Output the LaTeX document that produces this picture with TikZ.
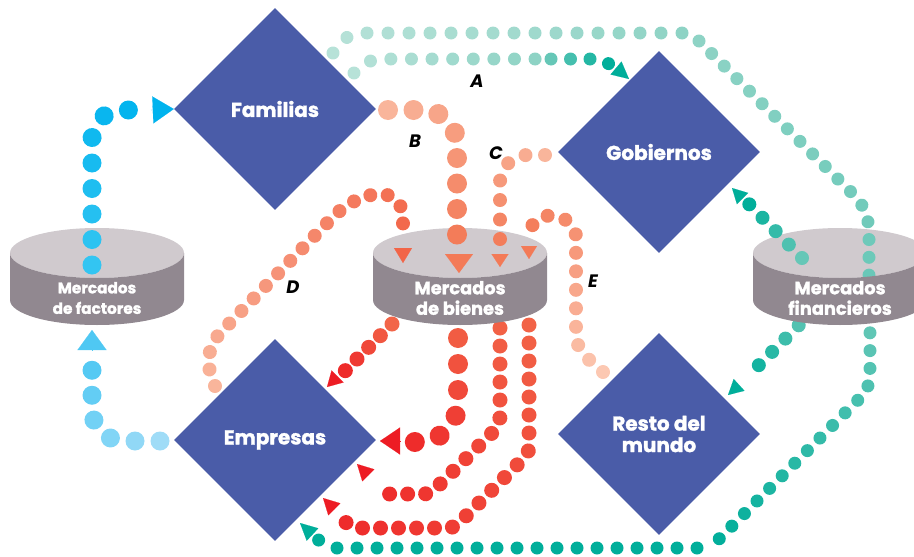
\documentclass[tikz,border=0pt]{standalone}
\usepackage{fontspec}
\setmainfont{Poppins}[BoldFeatures={FakeBold=1.5}]
\usetikzlibrary{arrows.meta,shapes.geometric,decorations.markings}

\definecolor{sectorblue}{HTML}{4A5CA8}
\definecolor{cylgray}{HTML}{D0CACE}
\definecolor{cyldark}{HTML}{918890}
\definecolor{cyanA}{HTML}{33C5F2} \definecolor{cyanB}{HTML}{00B3EE}
\definecolor{skyA}{HTML}{9FDCF7} \definecolor{skyB}{HTML}{4FC8F3}
\definecolor{mintA}{HTML}{B7E2D8} \definecolor{mintB}{HTML}{8ED3C5}
\definecolor{mintC}{HTML}{66C7B7} \definecolor{tealD}{HTML}{00AE9A}
\definecolor{peach}{HTML}{FCC8B2} \definecolor{salmon}{HTML}{F9B59B}
\definecolor{coral}{HTML}{F37A57} \definecolor{redA}{HTML}{F26548}
\definecolor{redB}{HTML}{EE2A2A} \definecolor{redtip}{HTML}{ED1C24}

\tikzset{
  sector/.style={diamond, aspect=1, fill=sectorblue, minimum width=202pt, minimum height=202pt,
    inner sep=0pt, text=white, align=center, font=\fontsize{20}{21.5}\selectfont\bfseries},
  cyltop/.style={fill=cylgray},
  cylside/.style={fill=cyldark},
  cyltext/.style={text=white, align=center, font=\fontsize{#1}{20.5}\selectfont\bfseries},
  lbl/.style={text=black, font=\fontsize{18}{18}\selectfont\bfseries\itshape},
  beads/.style n args={4}{postaction={decorate}, decoration={markings,
      mark=between positions 0 and 1 step #2 with {%
        \pgfmathtruncatemacro\beadmix{\pgfkeysvalueof{/pgf/decoration/mark info/distance from start}/\pgfdecoratedpathlength*100}%
        \fill[#4!\beadmix!#3] (0,0) circle (#1);}}},
  arrowhd/.style 2 args={-{Triangle[length=#1,width=#2]}, line width=0.1pt},
}

\begin{document}
\begin{tikzpicture}[x=1pt,y=-1pt]
    \useasboundingbox (0,0) rectangle (914,557); \clip (0,0) rectangle (914,557);

    % tops of the markets
    \foreach \cx in {97,460,840} \fill[cyltop] (\cx,253) ellipse (87 and 25);

    % flows
    \path[beads={9.5pt}{25.5pt}{cyanA}{cyanB}, rounded corners=30] (92,265) -- (92,110) -- (136,110);
    \path[beads={9.5pt}{25pt}{skyA}{skyB}, rounded corners=32] (160,441) -- (92,441) -- (92,362);
    \path[beads={6.5pt}{21pt}{mintA}{mintB}] (333,53) .. controls (341,41) and (349,33) .. (361,33) -- (683,33);
    \path[beads={6.5pt}{17.8pt}{mintB}{mintC}, rounded corners=10] (699,41) -- (862,203) -- (869,222) -- (869,300);
    \path[beads={6.5pt}{17.8pt}{mintC}{tealD}, rounded corners=12] (870,315) -- (870,388) -- (716,542);
    \path[beads={6.5pt}{20pt}{tealD}{tealD}] (697,548) -- (337,548) -- (318.5,540);
    \path[beads={6.5pt}{20.6pt}{mintA}{mintB}] (354,73) .. controls (363,63) and (371,59) .. (384,59) -- (536,59);
    \path[beads={6.5pt}{19.5pt}{mintC}{tealD}] (551,59) -- (592,59) .. controls (599,59) and (604,60) .. (609,64);
    \path[beads={7pt}{18.8pt}{mintC}{tealD}] (802,258) -- (749,204);
    \path[beads={7pt}{18.8pt}{mintC}{tealD}] (812,312) -- (746,378);
    \path[beads={10pt}{25.5pt}{salmon}{coral}, rounded corners=35] (388,110) -- (457,110) -- (457,240);
    \path[beads={10pt}{26pt}{redA}{redB}, rounded corners=40] (458,312) -- (458,442) -- (410,442);
    \path[beads={7pt}{19.5pt}{salmon}{coral}, rounded corners=28] (545,155) -- (500,155) -- (500,244);
    \path[beads={7pt}{18.5pt}{peach}{coral}] (603,372) .. controls (590,361) and (576,350) .. (576,335) -- (576,238) .. controls (576,212) and (532,206) .. (530,234);
    \path[beads={7pt}{17.5pt}{salmon}{redA}] (215,386) .. controls (206,366) and (206,350) .. (220,333) -- (333,217) .. controls (360,190) and (403,182) .. (403,220) -- (403,237);
    \path[beads={7.5pt}{16.5pt}{redA}{redB}] (392,324) -- (345,371);
    \path[beads={7.5pt}{18pt}{redA}{redB}] (500,310) -- (500,415) .. controls (500,424) and (497,428) .. (492,433) -- (434,490) .. controls (429,494) and (426,494) .. (420,494) -- (388,494) .. controls (383,494) and (379,489) .. (376,485);
    \path[beads={7.5pt}{18pt}{redA}{redB}] (529,307) -- (529,445) .. controls (529,452) and (527,455) .. (522,460) -- (462,520) .. controls (455,527) and (452,528) .. (445,528) -- (357,528) .. controls (351,528) and (346,523) .. (342,518);

    % fronts of the markets
    \foreach \cx/\nm/\fs/\txt in {97/fac/15.3/{Mercados\\de factores},460/bie/17.8/{Mercados\\de bienes},840/fin/17.8/{Mercados\\financieros}}{
        \fill[cylside] (\cx-87,253) arc (180:0:87 and 25) -- (\cx+87,300) arc (0:180:87 and 25) -- cycle;
        \node[cyltext=\fs] (\nm) at (\cx,298) {\txt};
    }

    % sectors
    \node[sector] (fam) at (275,109) {Familias};
    \node[sector] (gob) at (659,152) {Gobiernos};
    \node[sector] (emp) at (275,440) {Empresas};
    \node[sector] (rdm) at (659,434) {Resto del\\mundo};

    % heads
    \draw[arrowhd={21pt}{27pt}, cyanB] (151,110) -- (fam.west);
    \draw[arrowhd={20pt}{29pt}, skyB] (92,350) -- (92,330);
    \draw[arrowhd={17pt}{17pt}, tealD] (313,535) -- (300,523);
    \draw[arrowhd={17pt}{17pt}, tealD] (616,68) -- (629,79);
    \draw[arrowhd={15pt}{16pt}, tealD] (743,199) -- (732,188);
    \draw[arrowhd={15pt}{16pt}, tealD] (739,385) -- (728,395);
    \draw[arrowhd={19pt}{28pt}, coral] (459,254) -- (459,273);
    \draw[arrowhd={20pt}{27pt}, redtip] (400,441) -- (380,441);
    \draw[arrowhd={13pt}{17pt}, coral] (500,254) -- (500,267);
    \draw[arrowhd={13pt}{16pt}, coral] (529,246) -- (529,259);
    \draw[arrowhd={15pt}{18pt}, redA] (403,248) -- (403,263);
    \draw[arrowhd={15pt}{17pt}, redtip] (338,376) -- (327,387);
    \draw[arrowhd={16pt}{17pt}, redtip] (368,475) -- (357,464);
    \draw[arrowhd={16pt}{17pt}, redtip] (334,509) -- (323,498);

    \node[lbl] at (477,81) {A}; \node[lbl] at (415,141) {B}; \node[lbl] at (496,153) {C};
    \node[lbl] at (293,287) {D}; \node[lbl] at (593,281) {E};
\end{tikzpicture}
\end{document}
